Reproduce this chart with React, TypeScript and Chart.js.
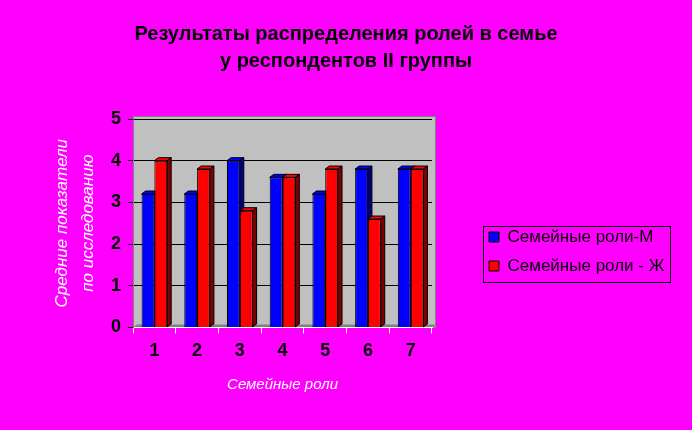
import React, { useEffect, useRef, useState } from 'react';
import { Chart, registerables } from 'chart.js';

Chart.register(...registerables);

const categories = ['1', '2', '3', '4', '5', '6', '7'];
const seriesM = [3.2, 3.2, 4, 3.6, 3.2, 3.8, 3.8];
const seriesF = [4, 3.8, 2.8, 3.6, 3.8, 2.6, 3.8];
const seriesNames = ['Семейные роли-М', 'Семейные роли - Ж'];
const titleLines = ['Результаты распределения ролей в семье', 'у респондентов II группы'];
const yTitleLines = ['Средние показатели', 'по исследованию'];
const xTitle = 'Семейные роли';
const yMin = 0;
const yMax = 5;
const yStep = 1;

const FAMILY = "Arial, 'Liberation Sans', sans-serif";
const DX = 4;
const DY = 3;
const frontColors = ['#0000FF', '#FF0000'];
const sideColors = ['#000080', '#800000'];

const wallPlugin = {
  id: 'wall',
  beforeDraw(chart: any) {
    const { ctx, chartArea: a } = chart;
    if (!a) return;
    ctx.save();
    ctx.fillStyle = '#C0C0C0';
    ctx.fillRect(a.left, a.top - DY, a.right - a.left + DX, a.bottom - a.top + DY);
    ctx.strokeStyle = '#808080';
    ctx.lineWidth = 1;
    ctx.strokeRect(a.left + 0.5, a.top - DY + 0.5, a.right - a.left + DX - 1, a.bottom - a.top + DY - 1);
    ctx.fillStyle = '#808080';
    ctx.beginPath();
    ctx.moveTo(a.left, a.bottom);
    ctx.lineTo(a.left + DX, a.bottom - DY);
    ctx.lineTo(a.right + DX, a.bottom - DY);
    ctx.lineTo(a.right, a.bottom);
    ctx.closePath();
    ctx.fill();
    ctx.restore();
  },
};

const bar3dPlugin = {
  id: 'bar3d',
  beforeDatasetsDraw(chart: any) {
    const ctx = chart.ctx;
    ctx.save();
    ctx.lineWidth = 1;
    ctx.strokeStyle = '#000';
    chart.data.datasets.forEach((_ds: any, i: number) => {
      const meta = chart.getDatasetMeta(i);
      meta.data.forEach((el: any) => {
        const { x, y, base, width } = el.getProps(['x', 'y', 'base', 'width'], true);
        const l = x - width / 2;
        const r = x + width / 2;
        ctx.fillStyle = frontColors[i];
        ctx.beginPath();
        ctx.moveTo(l, y);
        ctx.lineTo(l + DX, y - DY);
        ctx.lineTo(r + DX, y - DY);
        ctx.lineTo(r, y);
        ctx.closePath();
        ctx.fill();
        ctx.stroke();
        ctx.fillStyle = sideColors[i];
        ctx.beginPath();
        ctx.moveTo(r, y);
        ctx.lineTo(r + DX, y - DY);
        ctx.lineTo(r + DX, base - DY);
        ctx.lineTo(r, base);
        ctx.closePath();
        ctx.fill();
        ctx.stroke();
      });
    });
    ctx.restore();
  },
};

const LEGEND_BOX = { x: 483, y: 226, w: 187, h: 56 };

const layoutFixPlugin = {
  id: 'layoutFix',
  afterLayout(chart: any) {
    const tb = chart.titleBlock;
    if (tb) {
      tb.left = 0;
      tb.right = chart.width;
    }
    const lg = chart.legend;
    if (!lg) return;
    lg.left = LEGEND_BOX.x - 6;
    lg.right = LEGEND_BOX.x + LEGEND_BOX.w;
    lg.top = LEGEND_BOX.y - 35;
    lg.bottom = LEGEND_BOX.y + LEGEND_BOX.h + 30;
  },
  afterDraw(chart: any) {
    const ctx = chart.ctx;
    ctx.save();
    ctx.strokeStyle = '#000';
    ctx.lineWidth = 1;
    ctx.strokeRect(LEGEND_BOX.x + 0.5, LEGEND_BOX.y + 0.5, LEGEND_BOX.w, LEGEND_BOX.h);
    ctx.restore();
  },
};

export default function App() {
  const canvasRef = useRef<HTMLCanvasElement | null>(null);
  const [err, setErr] = useState('');

  useEffect(() => {
    if (!canvasRef.current) return;
    let chart: any = null;
    try {
      chart = new Chart(canvasRef.current, {
        type: 'bar',
        data: {
          labels: categories,
          datasets: [
            { label: seriesNames[0], data: seriesM, backgroundColor: frontColors[0], borderColor: '#000', borderWidth: 1 },
            { label: seriesNames[1], data: seriesF, backgroundColor: frontColors[1], borderColor: '#000', borderWidth: 1 },
          ],
        },
        options: {
          animation: false,
          responsive: true,
          maintainAspectRatio: false,
          datasets: { bar: { categoryPercentage: 0.6, barPercentage: 1 } },
          layout: { padding: { left: 0, right: 116, top: 0, bottom: 36 } },
          plugins: {
            title: {
              display: true,
              text: titleLines,
              color: '#000',
              font: { family: FAMILY, size: 20, weight: 'bold', lineHeight: 1.35 },
              padding: { top: 21, bottom: 44 },
            },
            legend: {
              display: true,
              position: 'right',
              labels: { color: '#000', boxWidth: 10, boxHeight: 10, padding: 12, font: { family: FAMILY, size: 17 } },
            },
            tooltip: { enabled: false },
          },
          scales: {
            x: {
              grid: { drawOnChartArea: false, tickLength: 6, color: '#FFFFFF' },
              border: { color: '#FFFFFF', width: 1 },
              ticks: { color: '#000', padding: 7, font: { family: FAMILY, size: 18, weight: 'bold' } },
              title: { display: true, text: xTitle, color: '#FFFFFF', font: { family: FAMILY, size: 15, style: 'italic' }, padding: { top: 7, bottom: 0 } },
            },
            y: {
              min: yMin,
              max: yMax,
              grid: { color: '#000', tickColor: '#000', tickLength: 5 },
              border: { color: '#808080' },
              ticks: { stepSize: yStep, color: '#000', padding: 7, font: { family: FAMILY, size: 18, weight: 'bold' } },
              title: { display: true, text: yTitleLines, color: '#FFFFFF', font: { family: FAMILY, size: 17, style: 'italic', lineHeight: 1.53 }, padding: { top: 49, bottom: 3 } },
            },
          },
        },
        plugins: [wallPlugin, bar3dPlugin, layoutFixPlugin],
      });
    } catch (e: any) {
      setErr(String(e && e.stack ? e.stack : e));
    }
    return () => { if (chart) chart.destroy(); };
  }, []);

  return (
    <div style={{ position: 'fixed', left: 0, top: 0, width: 692, height: 430, background: '#FF00FF' }}>
      <canvas ref={canvasRef} />
      {err ? <pre style={{ position: 'absolute', left: 0, top: 0, fontSize: 10, margin: 0, background: '#fff', whiteSpace: 'pre-wrap', width: 690 }}>{err}</pre> : null}
    </div>
  );
}
